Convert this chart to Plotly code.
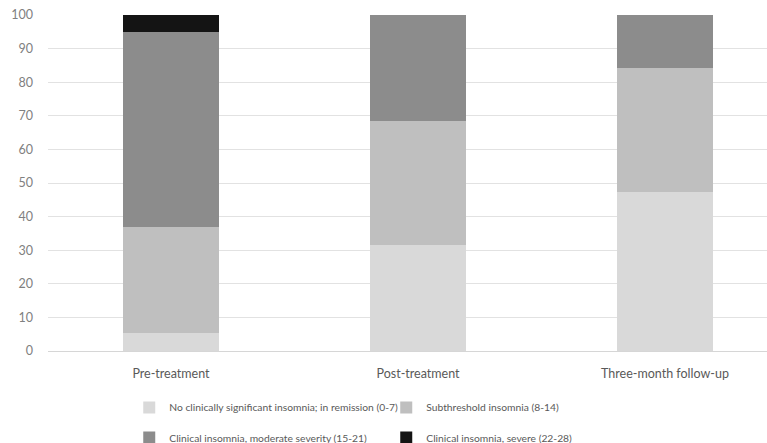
import plotly.graph_objects as go

# Share of participants (%) in each ISI category at each assessment
timepoints = ["Pre-treatment", "Post-treatment", "Three-month follow-up"]
no_insomnia = [5.3, 31.6, 47.4]
subthreshold = [31.6, 36.8, 36.8]
moderate = [57.9, 31.6, 15.8]
severe = [5.2, 0.0, 0.0]

series = [
    ("No clinically significant insomnia; in remission (0-7)", no_insomnia, "#d9d9d9", "legend"),
    ("Subthreshold insomnia (8-14)", subthreshold, "#bfbfbf", "legend"),
    ("Clinical insomnia, moderate severity (15-21)", moderate, "#8c8c8c", "legend2"),
    ("Clinical insomnia, severe (22-28)", severe, "#141414", "legend2"),
]

font_family = "Lato, Open Sans, sans-serif"

fig = go.Figure()
for name, vals, color, leg in series:
    fig.add_trace(go.Bar(
        x=timepoints, y=vals, name=name,
        marker=dict(color=color, line=dict(width=0)),
        width=0.39, legend=leg,
    ))

legend_style = dict(
    orientation="h", x=0.113, xanchor="left", yanchor="top", yref="container",
    entrywidth=212, entrywidthmode="pixels",
    itemwidth=30, traceorder="normal",
    font=dict(size=10.3, color="#595959", family=font_family),
    bgcolor="rgba(0,0,0,0)",
)

fig.update_layout(
    barmode="stack",
    width=767, height=443,
    margin=dict(l=48, r=0, t=15, b=92),
    paper_bgcolor="white", plot_bgcolor="white",
    font=dict(family=font_family, size=12, color="#7f7f7f"),
    xaxis=dict(
        range=[-0.498, 2.413],
        showgrid=False, showline=False, ticks="", ticklabelstandoff=13,
        tickfont=dict(size=12.5, color="#595959"),
    ),
    yaxis=dict(
        range=[0, 100], dtick=10,
        showgrid=True, gridcolor="#e2e2e2", gridwidth=1,
        zeroline=True, zerolinecolor="#d6d6d6", zerolinewidth=1,
        showline=False, ticks="", ticklabelstandoff=14,
        tickfont=dict(size=12.5, color="#808080"),
    ),
    legend=dict(legend_style, y=0.113),
    legend2=dict(legend_style, y=0.045),
    showlegend=True,
)

fig.write_html("out.html")
